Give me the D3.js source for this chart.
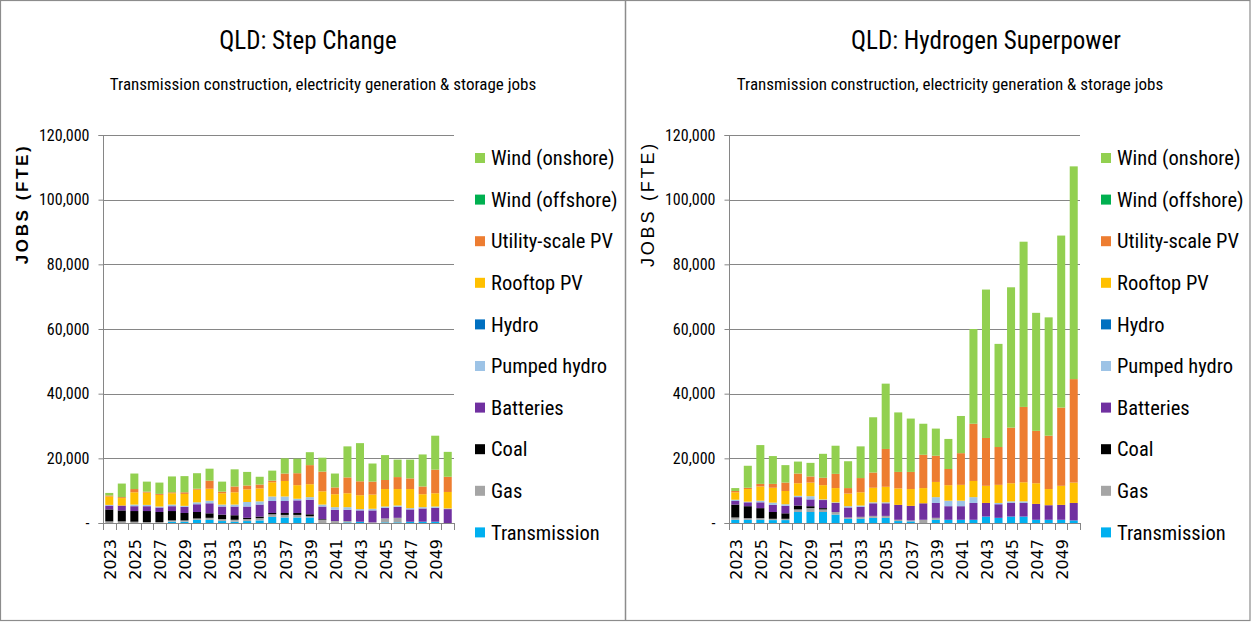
<!DOCTYPE html>
<html>
<head>
<meta charset="utf-8">
<script src="https://cdn.jsdelivr.net/npm/d3@7"></script>
<style>
  html, body { margin: 0; padding: 0; background: #fff; }
  svg { display: block; }
  .cal { font-family: "Liberation Sans Narrow", "Roboto Condensed", "Open Sans", sans-serif; }
</style>
</head>
<body>
<svg id="chart" width="1251" height="622"></svg>
<script>
const years = d3.range(2023, 2051).map(String);
const seriesNames = ["Transmission", "Gas", "Coal", "Batteries", "Pumped hydro", "Hydro",
  "Rooftop PV", "Utility-scale PV", "Wind (offshore)", "Wind (onshore)"];
const seriesColors = ["#00B0F0", "#A5A5A5", "#000000", "#7030A0", "#9DC3E6", "#0070C0",
  "#FFC000", "#ED7D31", "#00B050", "#92D050"];
const yTicks = [0, 20000, 40000, 60000, 80000, 100000, 120000];

// QLD: Step Change
const scTransmission = [0,0,0,0,0,400,400,1000,1000,600,400,600,800,1900,1700,1700,1700,0,0,200,400,0,200,200,400,400,400,0];
const scGas = [500,500,400,300,300,400,400,400,600,600,600,600,700,800,800,800,400,1000,600,400,0,200,1200,1400,0,0,0,0];
const scCoal = [3700,3400,3300,3400,3100,2900,2300,2000,1400,1400,1400,400,500,400,600,600,600,200,0,0,0,0,0,0,0,0,0,0];
const scBatteries = [1200,1500,1500,1500,1400,1500,1900,2400,3100,2500,2700,3500,3700,3700,3700,3900,4500,3900,3500,3500,3500,3700,3300,3400,3800,4100,4300,4300];
const scPumpedHydro = [200,0,500,400,300,500,300,600,800,600,600,1400,1000,1400,1400,500,800,600,800,800,400,500,400,400,400,400,400,200];
const scHydro = [0,0,0,0,0,0,0,0,0,0,0,0,0,0,0,0,0,0,0,0,0,0,0,0,0,0,0,0];
const scRooftopPV = [2600,2300,3800,3800,3600,3500,3700,3900,3700,3500,3800,3900,4000,4400,4800,4200,4000,4100,4000,4300,4300,4400,5400,5100,5900,4000,4100,5100];
const scUtilityPV = [300,300,1000,300,300,300,500,300,2500,500,1800,1200,1200,500,2300,3700,5900,6100,2100,4900,4300,4000,2800,3700,3300,2400,7300,4700];
const scWindOffshore = [0,0,0,0,0,0,0,0,0,0,0,0,0,0,0,0,0,0,0,0,0,0,0,0,0,0,0,0];
const scWindOnshore = [800,4200,4800,3100,3500,4900,5000,4800,3700,3100,5300,4200,2400,3100,4700,4500,4000,4300,4300,9600,11800,5600,7700,5400,5800,9900,10500,7700];

// QLD: Hydrogen Superpower
const hsTransmission = [1000,1000,1000,900,900,3400,3400,3400,2600,1300,1300,1600,1600,600,500,0,1000,1000,1000,1000,2000,1600,2000,2000,1000,1000,1000,800];
const hsGas = [700,500,500,400,400,800,1200,800,800,400,600,600,600,400,300,1000,600,0,0,0,0,0,0,0,0,0,0,0];
const hsCoal = [4000,3700,3100,2100,1700,1200,600,400,0,0,0,0,0,0,0,0,0,0,0,0,0,0,0,0,0,0,0,0];
const hsBatteries = [1100,1200,1800,2200,2300,2600,2100,2500,2800,3100,3100,3900,3900,4600,4500,5100,4600,4200,4200,5200,4200,4200,4200,4200,4900,4500,4600,5400];
const hsPumpedHydro = [400,200,500,700,500,400,1000,200,200,400,400,300,300,0,0,0,1800,1700,1700,1800,0,400,500,500,0,0,0,0];
const hsHydro = [0,0,0,0,0,0,0,0,0,0,0,0,0,0,0,0,0,0,0,0,0,0,0,0,0,0,0,0];
const hsRooftopPV = [2300,3900,4400,4600,4100,3900,4200,4400,4400,3900,4100,4500,4800,5100,5200,4700,4700,4800,4900,5000,5300,5600,5600,5900,6400,5000,5900,6300];
const hsUtilityPV = [400,400,800,1200,2600,3000,1900,2300,4400,1700,4400,4700,11700,5100,5300,10300,8100,5000,9800,17700,14800,11700,17200,23300,16200,16500,24200,32000];
const hsWindOffshore = [0,0,0,0,0,0,0,0,0,0,0,0,0,0,0,0,0,0,0,0,0,0,0,0,0,0,0,0];
const hsWindOnshore = [900,6800,12000,8600,5400,3700,4200,7400,8700,8300,9800,17100,20200,18400,16500,9600,8400,9300,11500,29300,45900,31900,43400,51100,36500,36600,53200,65800];

const panels = [
  { title: "QLD: Step Change", titleX: 308, subX: 323, x0: 103, x1: 454, yLabelX: 22, yLabelBold: true,
    series: [scTransmission, scGas, scCoal, scBatteries, scPumpedHydro, scHydro, scRooftopPV, scUtilityPV, scWindOffshore, scWindOnshore] },
  { title: "QLD: Hydrogen Superpower", titleX: 986, subX: 950, x0: 729, x1: 1080, yLabelX: 648, yLabelBold: false,
    series: [hsTransmission, hsGas, hsCoal, hsBatteries, hsPumpedHydro, hsHydro, hsRooftopPV, hsUtilityPV, hsWindOffshore, hsWindOnshore] }
];

const svg = d3.select("#chart");
const yTop = 135, yBottom = 523;
const axisGrey = "#868686";

// frames
svg.append("rect").attr("x", 0.5).attr("y", 0.5).attr("width", 1249.5).attr("height", 620)
  .attr("fill", "none").attr("stroke", "#8c8c8c").attr("stroke-width", 1.2);
svg.append("line").attr("x1", 625.5).attr("x2", 625.5).attr("y1", 0).attr("y2", 621)
  .attr("stroke", "#8c8c8c").attr("stroke-width", 1.5);

const y = d3.scaleLinear().domain([0, 120000]).range([yBottom, yTop]);

panels.forEach(p => {
  const g = svg.append("g");
  const x = d3.scaleBand().domain(years).range([p.x0, p.x1]).paddingInner(0.36).paddingOuter(0.18);

  // titles
  g.append("text").attr("class", "cal").attr("x", p.titleX).attr("y", 49)
    .attr("text-anchor", "middle").attr("font-size", 25).attr("fill", "#000").text(p.title);
  g.append("text").attr("class", "cal").attr("x", p.subX).attr("y", 90)
    .attr("text-anchor", "middle").attr("font-size", 17).attr("fill", "#000")
    .text("Transmission construction, electricity generation & storage jobs");

  // gridlines
  g.append("g").selectAll("line").data(yTicks.filter(t => t > 0)).join("line")
    .attr("x1", p.x0).attr("x2", p.x1)
    .attr("y1", d => Math.round(y(d)) + 0.5).attr("y2", d => Math.round(y(d)) + 0.5)
    .attr("stroke", axisGrey).attr("stroke-width", 1);

  // y axis
  const yAxis = d3.axisLeft(y).tickValues(yTicks).tickSize(5).tickPadding(9)
    .tickFormat(d => d === 0 ? "-" : d3.format(",")(d));
  const ya = g.append("g").attr("transform", `translate(${p.x0 + 0.5},0)`).call(yAxis);
  ya.select(".domain").attr("stroke", axisGrey).attr("d", `M-5,${yTop + 0.5}H0V${yBottom + 0.5}H-5`);
  ya.selectAll(".tick line").attr("stroke", axisGrey);
  ya.selectAll(".tick text").attr("class", "cal").attr("font-size", 16).attr("fill", "#000");

  // stacked bars
  const rows = years.map((yr, i) => {
    const r = { year: yr };
    seriesNames.forEach((s, k) => r[s] = p.series[k][i]);
    return r;
  });
  const stacked = d3.stack().keys(seriesNames)(rows);
  g.append("g").selectAll("g").data(stacked).join("g")
    .attr("fill", (d, k) => seriesColors[k])
    .selectAll("rect").data(d => d).join("rect")
    .attr("x", d => x(d.data.year))
    .attr("width", x.bandwidth())
    .attr("y", d => y(d[1]))
    .attr("height", d => Math.max(0, y(d[0]) - y(d[1])));

  // x axis
  const step = x.step();
  const xa = g.append("g");
  xa.append("line").attr("x1", p.x0).attr("x2", p.x1)
    .attr("y1", yBottom + 0.5).attr("y2", yBottom + 0.5).attr("stroke", axisGrey);
  const boundaries = years.map(yr => x(yr) - (step - x.bandwidth()) / 2).concat([p.x1]);
  xa.selectAll("line.tk").data(boundaries).join("line").attr("class", "tk")
    .attr("x1", d => Math.round(d) + 0.5).attr("x2", d => Math.round(d) + 0.5)
    .attr("y1", yBottom).attr("y2", yBottom + 7).attr("stroke", axisGrey);
  xa.selectAll("text").data(years.filter((d, i) => i % 2 === 0)).join("text")
    .attr("transform", d => `translate(${x(d) + x.bandwidth() / 2 + 1},539) rotate(-90)`)
    .attr("text-anchor", "end").attr("dy", "0.36em")
    .attr("font-family", "DejaVu Sans, sans-serif").attr("font-size", 16).attr("fill", "#000")
    .text(d => d);

  // y label
  g.append("text")
    .attr("transform", `translate(${p.yLabelX},204) rotate(-90)`)
    .attr("text-anchor", "middle").attr("dy", "0.35em")
    .attr("font-family", "Liberation Sans, Arial, sans-serif")
    .attr("font-weight", p.yLabelBold ? "bold" : "normal")
    .attr("font-size", p.yLabelBold ? 17 : 18)
    .attr("letter-spacing", p.yLabelBold ? 2.6 : 2.8)
    .attr("fill", "#000").text("JOBS (FTE)");

  // legend
  const legendOrder = seriesNames.map((s, k) => k).reverse();
  const lg = g.append("g").attr("transform", `translate(${p.x1 + 21},0)`);
  legendOrder.forEach((k, i) => {
    const cy = 158 + i * 41.6;
    lg.append("rect").attr("x", 0).attr("y", cy - 5).attr("width", 10).attr("height", 10)
      .attr("fill", seriesColors[k]);
    lg.append("text").attr("class", "cal").attr("x", 16).attr("y", cy).attr("dy", "0.35em")
      .attr("font-size", 20.5).attr("fill", "#000").text(seriesNames[k]);
  });
});
</script>
</body>
</html>
